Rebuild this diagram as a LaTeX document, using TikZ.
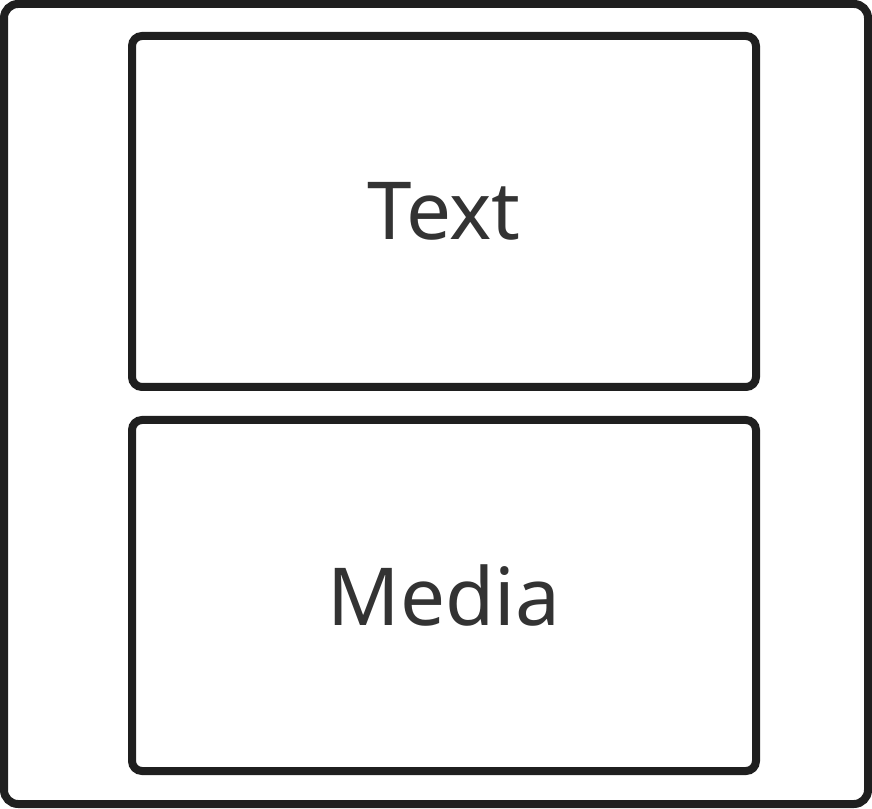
\documentclass[tikz,border=0pt]{standalone}
\usepackage{fontspec}
\setmainfont{Noto Sans}
\definecolor{linegray}{HTML}{1F1F1F}
\definecolor{textgray}{HTML}{333333}

\begin{document}
\begin{tikzpicture}[x=1pt, y=1pt,
    frame/.style={draw=linegray, line width=8pt, rounded corners=14pt, minimum width=864pt, minimum height=800pt},
    panel/.style={draw=linegray, line width=8pt, rounded corners=10pt, minimum width=624pt, minimum height=351pt,
        text=textgray, font=\fontsize{80}{90}\selectfont}]
    \useasboundingbox (0, 0) rectangle (872, 808);
    \node[frame] (outer) at (436, 404) {};
    \node[panel] (text) at (444, 596.5) {Text};
    \node[panel] (media) at (444, 212.5) {Media};
\end{tikzpicture}
\end{document}
